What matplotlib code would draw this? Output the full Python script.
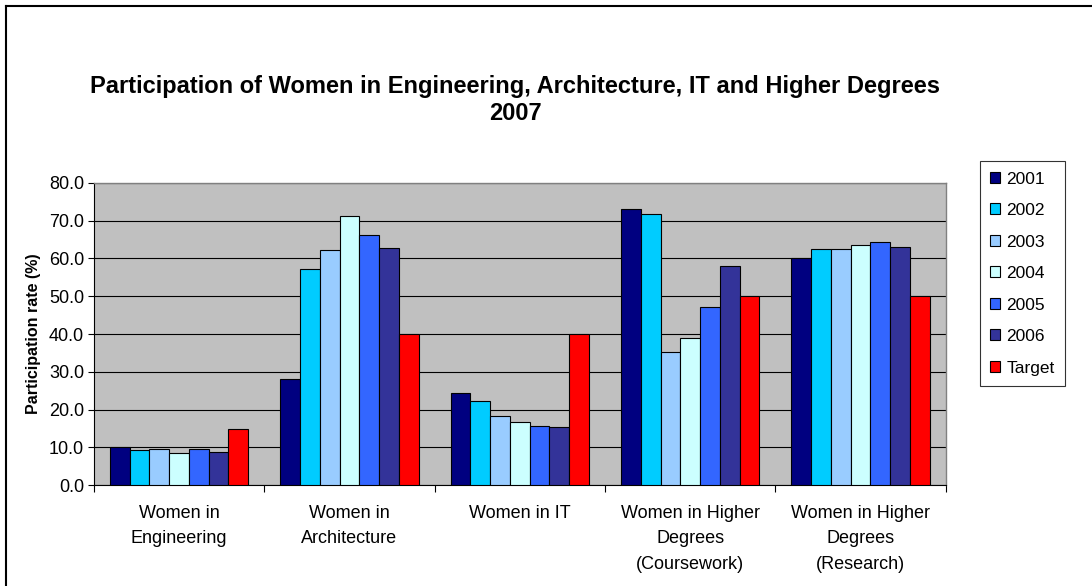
import numpy as np
import matplotlib
matplotlib.use("Agg")
import matplotlib.pyplot as plt  # noqa: E402
from matplotlib.lines import Line2D  # noqa: E402

plt.rcParams["font.family"] = ["Liberation Sans", "DejaVu Sans"]

categories = ["Women in\nEngineering", "Women in\nArchitecture", "Women in IT",
              "Women in Higher\nDegrees\n(Coursework)", "Women in Higher\nDegrees\n(Research)"]
series_names = ["2001", "2002", "2003", "2004", "2005", "2006", "Target"]
v2001 = [10.1, 28.1, 24.5, 73.0, 60.0]
v2002 = [9.3, 57.2, 22.3, 71.7, 62.6]
v2003 = [9.7, 62.1, 18.3, 35.3, 62.6]
v2004 = [8.4, 71.3, 16.8, 38.9, 63.6]
v2005 = [9.5, 66.1, 15.7, 47.2, 64.3]
v2006 = [8.7, 62.7, 15.5, 58.1, 63.0]
target = [15.0, 40.0, 40.0, 50.0, 50.0]
series = [v2001, v2002, v2003, v2004, v2005, v2006, target]
colors = ["#000080", "#00CCFF", "#99CCFF", "#CCFFFF", "#3366FF", "#333399", "#FF0000"]

fig = plt.figure(figsize=(10.92, 5.86), dpi=100)
ax = fig.add_axes([0.086, 0.172, 0.780, 0.516])
ax.set_facecolor("#C0C0C0")

x = np.arange(len(categories))
width = 0.116
for i, (name, vals) in enumerate(zip(series_names, series)):
    offs = (i - 3) * width
    ax.bar(x + offs, vals, width, color=colors[i], edgecolor="black",
           linewidth=0.8, label=name, zorder=3)

ax.set_xlim(-0.5, len(categories) - 0.5)
ax.set_ylim(0, 80)
ax.set_yticks(np.arange(0, 81, 10))
ax.set_yticklabels([f"{v:.1f}" for v in np.arange(0, 81, 10)], fontsize=13)
ax.yaxis.grid(True, color="black", linewidth=0.8, zorder=1)
ax.set_axisbelow(True)

ax.set_xticks(np.arange(-0.5, len(categories), 1.0), minor=False)
ax.set_xticklabels([])
ax.set_xticks(x, minor=True)
ax.set_xticklabels(categories, minor=True, fontsize=13, linespacing=1.66, va="top")
ax.tick_params(axis="x", which="minor", length=0, pad=14)
ax.tick_params(axis="x", which="major", length=5, direction="out", width=0.8)
ax.tick_params(axis="y", length=4, direction="out", width=0.8, pad=3)

for side in ["top", "right"]:
    ax.spines[side].set_color("#808080")
    ax.spines[side].set_linewidth(1.0)
ax.spines["left"].set_color("black")
ax.spines["bottom"].set_color("black")

ax.set_ylabel("Participation rate (%)", fontsize=11.5, fontweight="bold", labelpad=6)

fig.text(0.472, 0.829,
         "Participation of Women in Engineering, Architecture, IT and Higher Degrees\n2007",
         ha="center", va="center", fontsize=17, fontweight="bold", linespacing=1.25)

leg = ax.legend(loc="upper left", bbox_to_anchor=(0.897, 0.725),
                bbox_transform=fig.transFigure, fontsize=12.5, frameon=True,
                fancybox=False, edgecolor="black", handlelength=0.6,
                handleheight=0.6, handletextpad=0.35, labelspacing=0.95,
                borderpad=0.6, borderaxespad=0)
leg.get_frame().set_linewidth(0.8)

fig.add_artist(Line2D([6 / 1092, 6 / 1092], [0, 1 - 6 / 586], color="black", linewidth=1.5,
                      transform=fig.transFigure))
fig.add_artist(Line2D([6 / 1092, 1], [1 - 6 / 586, 1 - 6 / 586], color="black", linewidth=1.5,
                      transform=fig.transFigure))

fig.savefig("out.png", dpi=100)
plt.close(fig)
